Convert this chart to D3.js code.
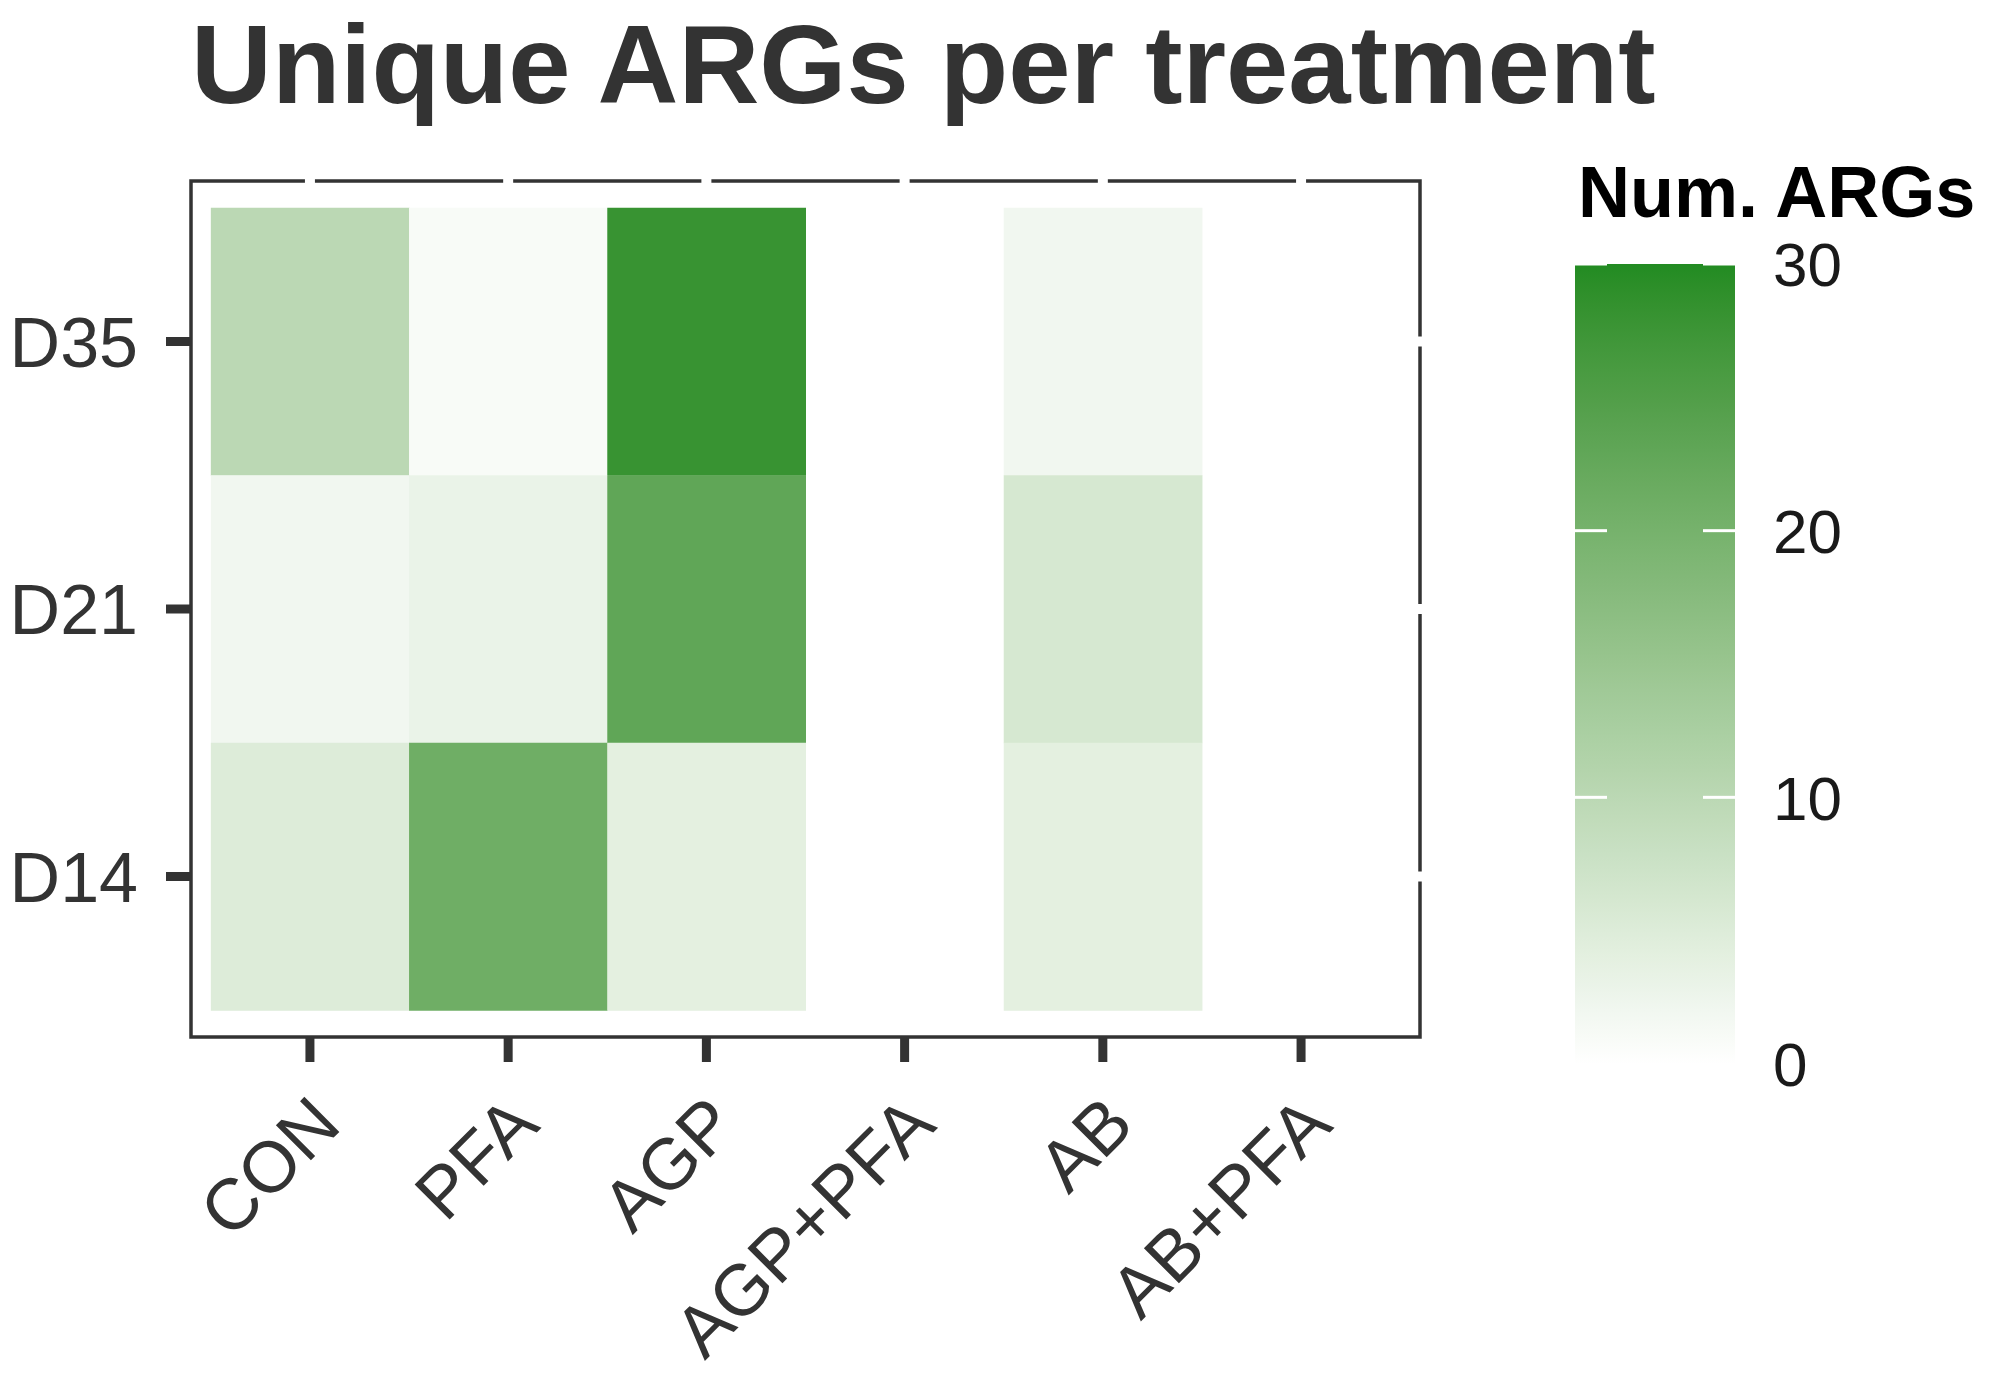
<!DOCTYPE html>
<html>
<head>
<meta charset="utf-8">
<script src="https://cdn.jsdelivr.net/npm/d3@7"></script>
<style>
  html, body { margin: 0; padding: 0; background: #fff; }
  text { font-family: "Liberation Sans", Arial, sans-serif; }
</style>
</head>
<body>
<div id="chart"></div>
<script>
// data
const treatments = ['CON', 'PFA', 'AGP', 'AGP+PFA', 'AB', 'AB+PFA'];
const days = ['D35', 'D21', 'D14'];
const valsD14 = [5, 21, 4, null, 4, null];
const valsD21 = [2, 3, 23, null, 6, null];
const valsD35 = [10, 1, 28, null, 2, null];
const legendTicks = [0, 10, 20, 30];

const rows = { D14: valsD14, D21: valsD21, D35: valsD35 };
const cells = [];
days.forEach(d => rows[d].forEach((v, i) => {
  if (v != null) cells.push({ day: d, trt: treatments[i], value: v });
}));

const W = 1995, H = 1387;
const P = { left: 191, right: 1420, top: 181, bottom: 1037 };

const svg = d3.select('#chart').append('svg')
  .attr('width', W).attr('height', H);

const x = d3.scaleBand().domain(treatments)
  .range([P.left, P.right]).paddingInner(0).paddingOuter(0.1);
const y = d3.scaleBand().domain(days)
  .range([P.top, P.bottom]).paddingInner(0).paddingOuter(0.1);
const color = d3.scaleLinear().domain([0, 30])
  .range(['#ffffff', '#228B22']).interpolate(d3.interpolateLab);

// title
svg.append('text')
  .attr('x', 191).attr('y', 103)
  .attr('font-size', 112).attr('font-weight', 'bold').attr('fill', '#333333')
  .text('Unique ARGs per treatment');

// tiles
svg.append('g').selectAll('rect')
  .data(cells).join('rect')
    .attr('x', d => x(d.trt)).attr('y', d => y(d.day))
    .attr('width', x.bandwidth() + 0.5).attr('height', y.bandwidth() + 0.5)
    .attr('fill', d => color(d.value));

// panel border
svg.append('rect')
  .attr('x', P.left).attr('y', P.top)
  .attr('width', P.right - P.left).attr('height', P.bottom - P.top)
  .attr('fill', 'none').attr('stroke', '#333333').attr('stroke-width', 3.5);

// white secondary ticks break the top and right borders
svg.append('g').selectAll('line')
  .data(treatments).join('line')
    .attr('x1', d => x(d) + x.bandwidth() / 2).attr('x2', d => x(d) + x.bandwidth() / 2)
    .attr('y1', P.top - 6).attr('y2', P.top + 6)
    .attr('stroke', '#fff').attr('stroke-width', 10);
svg.append('g').selectAll('line')
  .data(days).join('line')
    .attr('y1', d => y(d) + y.bandwidth() / 2).attr('y2', d => y(d) + y.bandwidth() / 2)
    .attr('x1', P.right - 6).attr('x2', P.right + 6)
    .attr('stroke', '#fff').attr('stroke-width', 10);

// axes
const xAxis = svg.append('g')
  .attr('transform', `translate(0,${P.bottom})`)
  .call(d3.axisBottom(x).tickSize(25).tickSizeOuter(0));
const yAxis = svg.append('g')
  .attr('transform', `translate(${P.left},0)`)
  .call(d3.axisLeft(y).tickSize(25).tickSizeOuter(0));

[xAxis, yAxis].forEach(a => {
  a.select('.domain').remove();
  a.selectAll('.tick line').attr('stroke', '#333333').attr('stroke-width', 9);
  a.selectAll('.tick text')
    .attr('font-size', 70).attr('fill', '#333333')
    .attr('font-family', '"Liberation Sans", Arial, sans-serif');
});

yAxis.selectAll('.tick text').attr('x', -53).attr('dy', '0.36em');

xAxis.selectAll('.tick text')
  .attr('font-size', 72)
  .attr('text-anchor', 'end')
  .attr('x', 0).attr('y', 0).attr('dy', '0.72em')
  .attr('transform', 'translate(-3,54) rotate(-45)');

// colour bar legend
const L = { x: 1575, w: 160, top: 264, bottom: 1064 };
const ly = d3.scaleLinear().domain([0, 30]).range([L.bottom, L.top]);

const defs = svg.append('defs');
const grad = defs.append('linearGradient')
  .attr('id', 'cbar').attr('x1', 0).attr('x2', 0).attr('y1', 1).attr('y2', 0);
grad.selectAll('stop')
  .data(d3.range(0, 31, 1)).join('stop')
    .attr('offset', d => d / 30)
    .attr('stop-color', d => color(d));

svg.append('text')
  .attr('x', 1578).attr('y', 217)
  .attr('font-size', 72).attr('font-weight', 'bold').attr('fill', '#000')
  .text('Num. ARGs');

svg.append('rect')
  .attr('x', L.x).attr('y', L.top)
  .attr('width', L.w).attr('height', L.bottom - L.top)
  .attr('fill', 'url(#cbar)');

const lt = svg.append('g').selectAll('g')
  .data(legendTicks).join('g');
lt.append('line')
  .attr('x1', L.x).attr('x2', L.x + L.w / 5)
  .attr('y1', d => ly(d)).attr('y2', d => ly(d))
  .attr('stroke', '#fff').attr('stroke-width', 3);
lt.append('line')
  .attr('x1', L.x + L.w * 4 / 5).attr('x2', L.x + L.w)
  .attr('y1', d => ly(d)).attr('y2', d => ly(d))
  .attr('stroke', '#fff').attr('stroke-width', 3);
lt.append('text')
  .attr('x', 1773).attr('y', d => ly(d)).attr('dy', '0.36em')
  .attr('font-size', 62).attr('fill', '#1a1a1a')
  .text(d => d);
</script>
</body>
</html>
